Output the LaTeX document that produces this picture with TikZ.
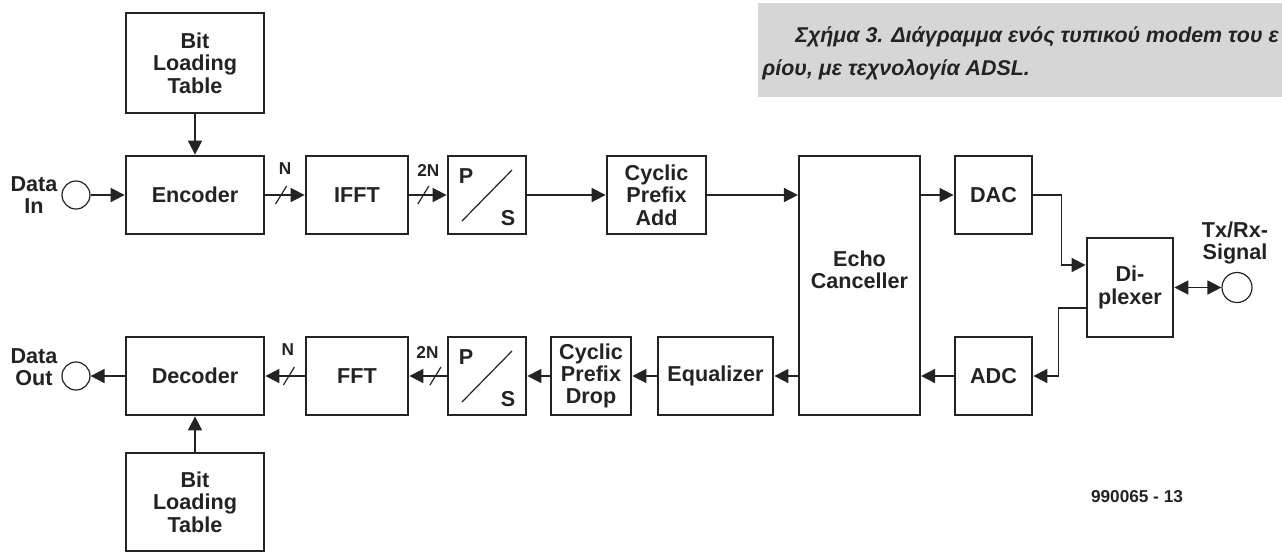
\documentclass[tikz,border=0pt]{standalone}
\usepackage{fontspec}
\setmainfont{Liberation Sans}
\usepackage{tikz}
\usetikzlibrary{arrows.meta, positioning, calc}
\definecolor{mydark}{RGB}{35,35,35}
\definecolor{mygray}{RGB}{214,214,214}
\tikzset{
  block/.style={rectangle, draw=mydark, fill=white, line width=1.4pt,
    align=center, inner sep=0pt, text=mydark,
    font=\fontsize{10.8}{11.2}\selectfont\bfseries},
  port/.style={circle, draw=mydark, line width=0.6pt,
    minimum size=14pt, inner sep=0pt},
  lbl/.style={align=center, inner sep=0pt, text=mydark,
    font=\fontsize{10.8}{11.2}\selectfont\bfseries},
  buslbl/.style={inner sep=0pt, text=mydark,
    font=\fontsize{8.6}{9}\selectfont\bfseries},
  caption/.style={inner sep=0pt, text=mydark,
    font=\fontsize{10.7}{11}\selectfont\bfseries\itshape},
  arrow/.style={-{Triangle[length=7pt,width=7pt]}, line width=0.85pt, color=mydark},
  dblarrow/.style={{Triangle[length=7pt,width=7pt]}-{Triangle[length=7pt,width=7pt]}, line width=0.85pt, color=mydark},
  line/.style={line width=0.85pt, color=mydark},
  slash/.style={line width=0.6pt, color=mydark}
}

\begin{document}
\begin{tikzpicture}[x=0.5pt, y=-0.5pt]
  \useasboundingbox (0,0) rectangle (1282,554);

  % Caption band
  \fill[mygray] (758,3) rectangle (1282,97);
  \begin{scope}
    \clip (0,0) rectangle (1282,554);
    \node[caption, anchor=base west] (cap1) at (795,42) {Σχήμα 3. Διάγραμμα ενός τυπικού modem του ε};
    \node[caption, anchor=base west] (cap2) at (762,75) {ρίου, με τεχνολογία ADSL.};
  \end{scope}

  % Transmit path
  \node[block, minimum width=69pt, minimum height=50pt] (blt1) at (195,63) {Bit\\Loading\\Table};
  \node[block, minimum width=69pt, minimum height=39pt] (enc) at (195,195) {Encoder};
  \node[block, minimum width=51pt, minimum height=39pt] (ifft) at (357,195) {IFFT};
  \node[block, minimum width=39pt, minimum height=39pt] (ps1) at (487,195) {};
  \node[block, minimum width=49.5pt, minimum height=39pt] (cpa) at (656.5,195) {Cyclic\\Prefix\\Add};
  \node[block, minimum width=38.5pt, minimum height=39pt] (dac) at (993.5,195) {DAC};

  % Echo canceller and diplexer
  \node[block, line width=1.1pt, minimum width=60.5pt, minimum height=129.5pt] (echo) at (859.5,285.5) {};
  \node[lbl] (echotxt) at (859.5,270) {Echo\\Canceller};
  \node[block, minimum width=43pt, minimum height=49.5pt] (dipl) at (1130,287.5) {Di-\\plexer};

  % Receive path
  \node[block, minimum width=38.5pt, minimum height=39pt] (adc) at (993.5,376) {ADC};
  \node[block, minimum width=57.5pt, minimum height=39pt] (eq) at (715.5,376) {Equalizer};
  \node[block, minimum width=40pt, minimum height=39pt] (cpd) at (591,376) {Cyclic\\Prefix\\Drop};
  \node[block, minimum width=39pt, minimum height=39pt] (ps2) at (487,376) {};
  \node[block, minimum width=51pt, minimum height=39pt] (fft) at (357,376) {FFT};
  \node[block, minimum width=69pt, minimum height=39pt] (dec) at (195,376) {Decoder};
  \node[block, minimum width=69pt, minimum height=49pt] (blt2) at (195,502) {Bit\\Loading\\Table};

  % P/S converters
  \draw[slash] ($(ps1)+(-25,26)$) -- ($(ps1)+(25,-25)$);
  \node[lbl] (ps1p) at ($(ps1)+(-21,-19)$) {P};
  \node[lbl] (ps1s) at ($(ps1)+(21,23)$) {S};
  \draw[slash] ($(ps2)+(-25,26)$) -- ($(ps2)+(25,-25)$);
  \node[lbl] (ps2p) at ($(ps2)+(-21,-19)$) {P};
  \node[lbl] (ps2s) at ($(ps2)+(21,23)$) {S};

  % Ports
  \node[port] (din) at (76,195) {};
  \node[port] (dout) at (76,376) {};
  \node[port, minimum size=15pt] (txrx) at (1237,287.5) {};
  \node[lbl] (dinlbl) at (34,195) {Data\\In};
  \node[lbl] (doutlbl) at (34,367) {Data\\Out};
  \node[lbl] (txrxlbl) at (1235,243) {Tx/Rx-\\Signal};

  % Transmit connections
  \draw[arrow] (blt1) -- (enc);
  \draw[arrow] (din) -- (enc);
  \draw[arrow] (enc) -- (ifft) coordinate[pos=0.4] (nmark1);
  \draw[arrow] (ifft) -- (ps1) coordinate[pos=0.375] (nmark2);
  \draw[arrow] (ps1) -- (cpa);
  \draw[arrow] (cpa.east) -- (cpa.east -| echo.west);
  \draw[arrow] (echo.east |- dac) -- (dac);
  \draw[arrow] (dac.east) -- ++(28,0) |- ([shift={(0,-22.5)}]dipl.west);

  % Receive connections
  \draw[arrow] ([shift={(0,20.5)}]dipl.west) -- ++(-27,0) |- (adc.east);
  \draw[arrow] (adc) -- (adc.west -| echo.east);
  \draw[arrow] (echo.west |- eq) -- (eq);
  \draw[arrow] (eq) -- (cpd);
  \draw[arrow] (cpd) -- (ps2);
  \draw[arrow] (ps2) -- (fft) coordinate[pos=0.3] (nmark3);
  \draw[arrow] (fft) -- (dec) coordinate[pos=0.4] (nmark4);
  \draw[arrow] (dec) -- (dout);
  \draw[arrow] (blt2) -- (dec);
  \draw[dblarrow] (dipl) -- (txrx);

  % Bus widths
  \draw[slash] ([shift={(-5.5,9)}]nmark1) -- ([shift={(5.5,-9)}]nmark1);
  \draw[slash] ([shift={(-5.5,9)}]nmark2) -- ([shift={(5.5,-9)}]nmark2);
  \draw[slash] ([shift={(-5.5,9)}]nmark3) -- ([shift={(5.5,-9)}]nmark3);
  \draw[slash] ([shift={(-5.5,9)}]nmark4) -- ([shift={(5.5,-9)}]nmark4);
  \node[buslbl] (nlbl1) at ([shift={(4,-26)}]nmark1) {N};
  \node[buslbl] (nlbl2) at ([shift={(5,-25)}]nmark2) {2N};
  \node[buslbl] (nlbl3) at ([shift={(-8,-24)}]nmark3) {2N};
  \node[buslbl] (nlbl4) at ([shift={(-1,-26)}]nmark4) {N};

  % Figure number
  \node[buslbl] (fignum) at (1137,497) {990065 - 13};
\end{tikzpicture}
\end{document}
